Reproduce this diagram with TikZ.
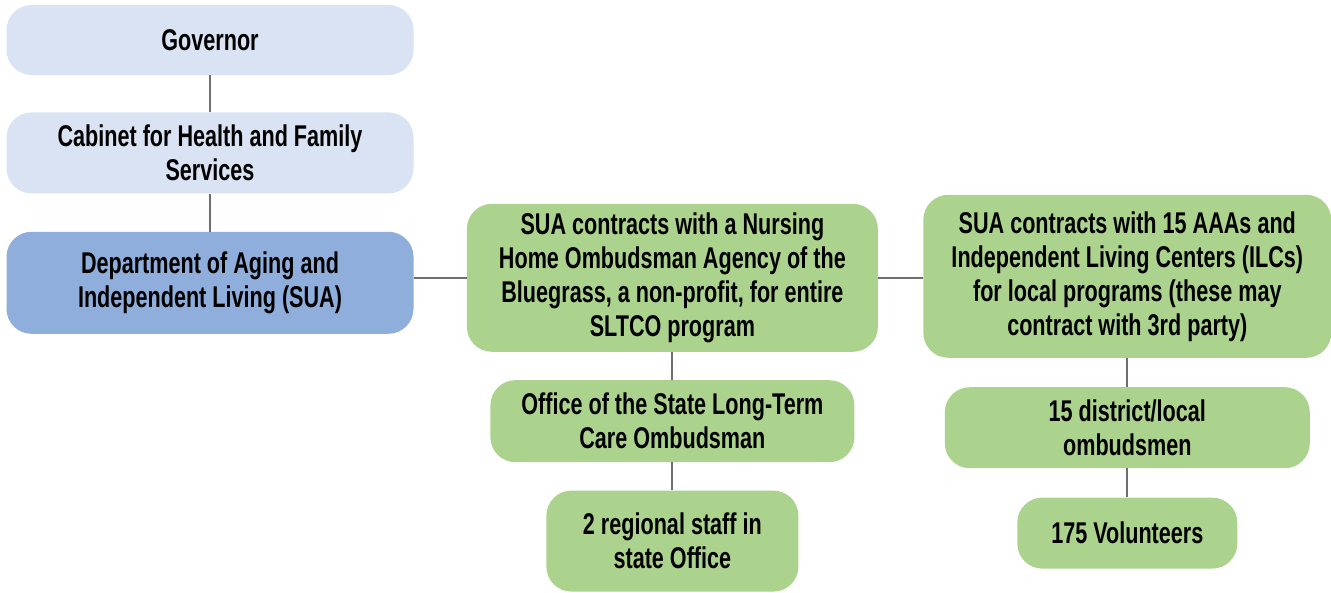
\documentclass[tikz,border=0pt]{standalone}
\usepackage{fontspec}
\setmainfont[FakeStretch=0.72]{Liberation Sans}
\usepackage{tikz}
\usetikzlibrary{positioning}
\definecolor{paleblue}{RGB}{218,227,243}
\definecolor{midblue}{RGB}{143,174,220}
\definecolor{leafgreen}{RGB}{172,211,142}
\definecolor{linegray}{RGB}{110,110,110}
\tikzstyle{block} = [rectangle, rounded corners=25pt, align=center, inner sep=2pt,
    font=\fontsize{30}{34}\selectfont\bfseries]
\tikzstyle{blueblock} = [block, fill=paleblue]
\tikzstyle{deptblock} = [block, fill=midblue]
\tikzstyle{greenblock} = [block, fill=leafgreen]
\tikzstyle{line} = [draw, linegray, line width=2pt]

\begin{document}
\begin{tikzpicture}[x=1pt, y=1pt]
    \useasboundingbox (0,0) rectangle (1331,-592);
        % Nodes
    \node [blueblock, minimum width=407pt, minimum height=70pt] (gov) at (210,-40) {Governor};
    \node [blueblock, minimum width=407pt, minimum height=81pt, below = 37pt of gov] (cab) {Cabinet for Health and Family\\Services};
    \node [deptblock, minimum width=407pt, minimum height=102pt, below = 38pt of cab] (dep) {Department of Aging and\\Independent Living (SUA)};
    \node [greenblock, minimum width=411pt, minimum height=148pt, right = 53pt of dep, yshift=5pt] (nhoa) {SUA contracts with a Nursing\\Home Ombudsman Agency of the\\Bluegrass, a non-profit, for entire\\SLTCO program};
    \node [greenblock, minimum width=364pt, minimum height=82pt, below = 28pt of nhoa] (office) {Office of the State Long-Term\\Care Ombudsman};
    \node [greenblock, minimum width=252pt, minimum height=101pt, below = 28pt of office] (staff) {2 regional staff in\\state Office};
    \node [greenblock, minimum width=408pt, minimum height=163pt, right = 45pt of nhoa, yshift=1.5pt] (aaa) {SUA contracts with 15 AAAs and\\Independent Living Centers (ILCs)\\for local programs (these may\\contract with 3rd party)};
    \node [greenblock, minimum width=365pt, minimum height=81pt, below = 29pt of aaa] (local) {15 district/local\\ombudsmen};
    \node [greenblock, minimum width=220pt, minimum height=71pt, below = 29pt of local] (vol) {175 Volunteers};
        % Edges
    \path [line] (gov) -- (cab);
    \path [line] (cab) -- (dep);
    \path [line] (dep.east |- nhoa.west) -- (nhoa.west);
    \path [line] (nhoa) -- (office);
    \path [line] (office) -- (staff);
    \path [line] (nhoa.east) -- (aaa.west |- nhoa.east);
    \path [line] (aaa) -- (local);
    \path [line] (local) -- (vol);
\end{tikzpicture}
\end{document}
